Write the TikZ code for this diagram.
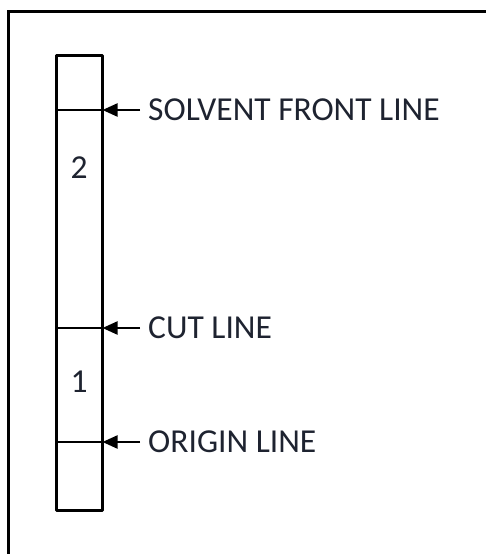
\documentclass[tikz,border=0pt]{standalone}
\usepackage{fontspec}
\setmainfont{Carlito}
\usetikzlibrary{arrows.meta}
\definecolor{txt}{HTML}{1E2330}
\begin{document}
\begin{tikzpicture}[x=1pt,y=-1pt,
  frame/.style={line width=3pt},
  strip/.style={line width=3pt, line join=round},
  sep/.style={line width=2.8pt},
  arr/.style={line width=2.2pt,-{Triangle[length=15pt,width=13pt]}},
  lab/.style={anchor=west, inner xsep=8pt, inner ysep=0pt, font=\fontsize{33.5}{38}\selectfont, text=txt},
  num/.style={font=\fontsize{33.5}{38}\selectfont, text=txt, inner sep=0pt}]
\useasboundingbox (0,0) rectangle (485,554);
\fill[white] (0,0) rectangle (485,554);
% outer frame (top and left only)
\draw[frame] (486,11) -- (8,11) -- (8,556);
% strip
\node[draw, strip, minimum width=46pt, minimum height=455pt, inner sep=0pt, anchor=north west] (plate) at (55,54) {};
% separating lines
\coordinate (sfL) at (55,110); \coordinate (sfR) at (101,110);
\coordinate (ctL) at (55,328); \coordinate (ctR) at (101,328);
\coordinate (orL) at (55,442); \coordinate (orR) at (101,442);
\draw[sep] (sfL) -- (sfR);
\draw[sep] (ctL) -- (ctR);
\draw[sep] (orL) -- (orR);
% zone numbers
\node[num] (n2) at (79,168) {2};
\node[num] (n1) at (79,382) {1};
% labels
\node[lab] (lsf) at (140,110) {SOLVENT FRONT LINE};
\node[lab] (lct) at (140,328) {CUT LINE};
\node[lab] (lor) at (140,442) {ORIGIN LINE};
\draw[arr] (lsf.west) -- ([xshift=1.5pt]sfR);
\draw[arr] (lct.west) -- ([xshift=1.5pt]ctR);
\draw[arr] (lor.west) -- ([xshift=1.5pt]orR);
\end{tikzpicture}
\end{document}
